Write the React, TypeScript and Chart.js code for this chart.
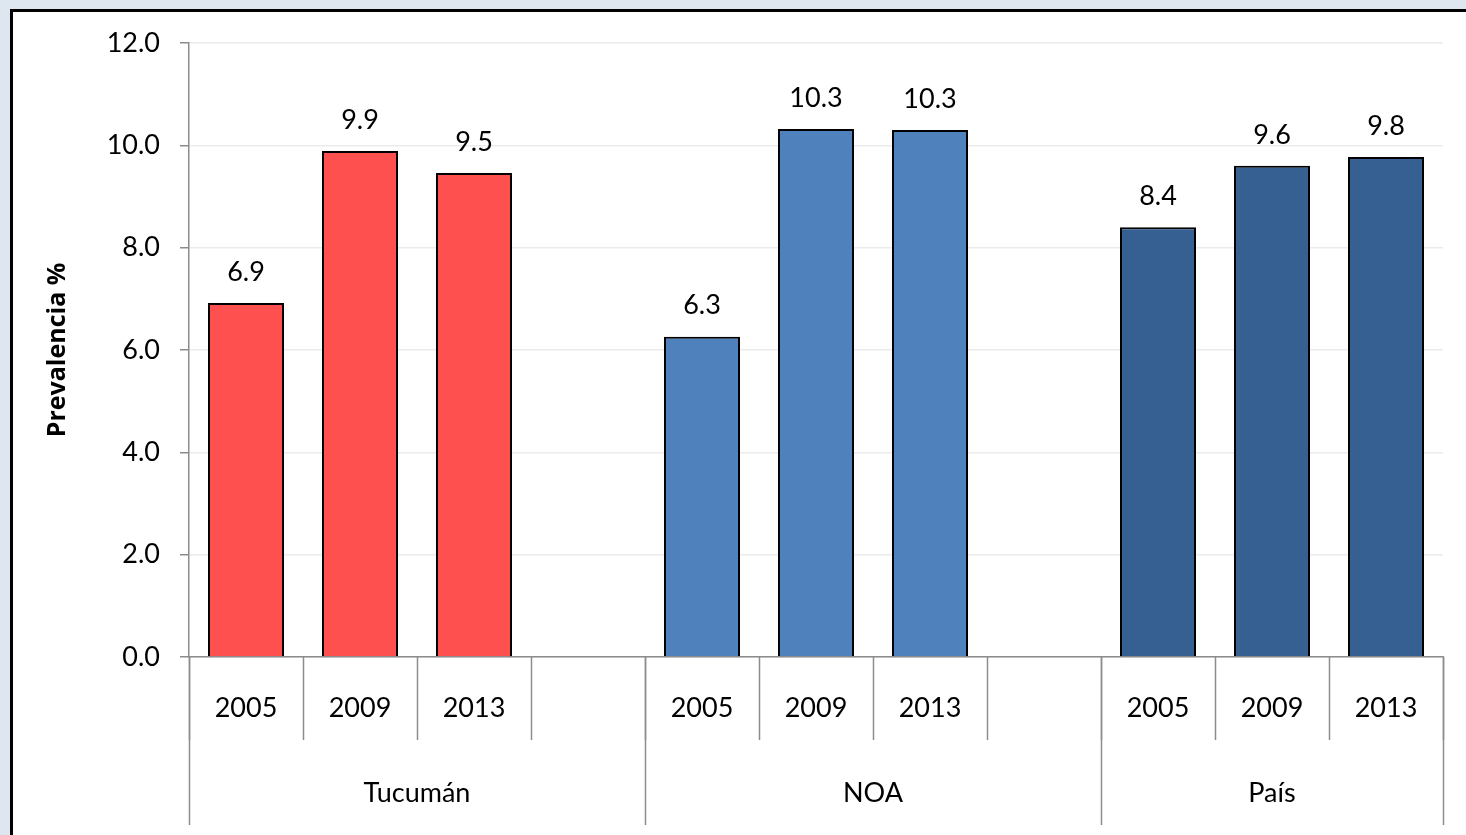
import React, { useEffect, useRef } from "react";
import { Chart, registerables } from "chart.js";

Chart.register(...registerables);

const years = ["2005", "2009", "2013", "", "2005", "2009", "2013", "", "2005", "2009", "2013"];
const values: (number | null)[] = [6.92, 9.89, 9.46, null, 6.26, 10.32, 10.3, null, 8.4, 9.6, 9.77];
const groups = ["Tucumán", "NOA", "País"];
const groupSpans = [[0, 3], [4, 7], [8, 10]];
const barColors = ["#FF5050", "#FF5050", "#FF5050", "#FFFFFF", "#4F81BD", "#4F81BD", "#4F81BD", "#FFFFFF", "#366092", "#366092", "#366092"];
const yTicks = [0, 2, 4, 6, 8, 10, 12];

const FONT = "Lato, 'Open Sans', sans-serif";

const multiAxisPlugin = {
  id: "multiAxis",
  afterDraw(chart: any) {
    const ctx = chart.ctx;
    const x = chart.scales.x;
    const area = chart.chartArea;
    const n = years.length;
    const step = x.getPixelForValue(1) - x.getPixelForValue(0);
    const edge = (i: number) => x.getPixelForValue(i) - step / 2;
    const base = area.bottom;
    ctx.save();
    ctx.strokeStyle = "#8c8c8c";
    ctx.lineWidth = 1.5;
    for (let i = 0; i <= n; i++) {
      const px = Math.round(edge(i)) + 0.5;
      ctx.beginPath();
      ctx.moveTo(px, base);
      ctx.lineTo(px, base + 83);
      ctx.stroke();
    }
    const divs = [0, 4, 8, 11];
    for (const d of divs) {
      const px = Math.round(edge(d)) + 0.5;
      ctx.beginPath();
      ctx.moveTo(px, base);
      ctx.lineTo(px, base + 168);
      ctx.stroke();
    }
    ctx.fillStyle = "#000";
    ctx.font = `27px ${FONT}`;
    ctx.textAlign = "center";
    ctx.textBaseline = "middle";
    years.forEach((y, i) => {
      if (y) ctx.fillText(y, x.getPixelForValue(i), base + 51);
    });
    groups.forEach((g, gi) => {
      const [a, b] = groupSpans[gi];
      const left = edge(a);
      const right = gi === groups.length - 1 ? edge(n) : edge(b + 1);
      ctx.fillText(g, (left + right) / 2, base + 136);
    });
    ctx.restore();
  },
};

const valueLabelPlugin = {
  id: "valueLabels",
  afterDatasetsDraw(chart: any) {
    const ctx = chart.ctx;
    const meta = chart.getDatasetMeta(0);
    ctx.save();
    ctx.fillStyle = "#000";
    ctx.font = `27px ${FONT}`;
    ctx.textAlign = "center";
    ctx.textBaseline = "middle";
    meta.data.forEach((bar: any, i: number) => {
      const v = values[i];
      if (v == null) return;
      ctx.fillText(v.toFixed(1), bar.x, bar.y - 31);
    });
    ctx.restore();
  },
};

export default function App() {
  const ref = useRef<HTMLCanvasElement>(null);
  useEffect(() => {
    if (!ref.current) return;
    const chart = new Chart(ref.current, {
      type: "bar",
      data: {
        labels: years.map((y, i) => y || " " + i),
        datasets: [
          {
            data: values,
            backgroundColor: barColors,
            borderColor: "#000",
            borderWidth: 2,
            barPercentage: 0.667,
            categoryPercentage: 1,
          },
        ],
      },
      options: {
        responsive: false,
        animation: false,
        layout: { padding: { top: 31, right: 23, left: 0, bottom: 0 } },
        plugins: { legend: { display: false }, tooltip: { enabled: false } },
        scales: {
          x: {
            offset: true,
            ticks: { display: false },
            grid: { display: false },
            border: { display: true, color: "#8c8c8c", width: 1.5 },
            afterFit(scale: any) {
              scale.height = 178;
              scale.paddingLeft = 0;
              scale.paddingRight = 0;
            },
          },
          y: {
            min: 0,
            max: 12,
            afterBuildTicks(scale: any) {
              scale.ticks = yTicks.map((v) => ({ value: v }));
            },
            ticks: {
              color: "#000",
              font: { size: 27, family: FONT },
              padding: 20,
              callback: (v: any) => Number(v).toFixed(1),
            },
            grid: {
              color: "#ebebeb",
              lineWidth: 1.5,
              drawTicks: true,
              tickLength: 9,
              tickColor: "#8c8c8c",
            },
            border: { display: true, color: "#8c8c8c", width: 1.5 },
            title: {
              display: true,
              text: "Prevalencia %",
              color: "#000",
              font: { size: 25, weight: "bold", family: "'Open Sans', sans-serif" },
              padding: { top: 30, bottom: 0 },
            },
            afterFit(scale: any) {
              scale.width = 176;
              scale.paddingTop = 0;
              scale.paddingBottom = 0;
            },
          },
        },
      },
      plugins: [multiAxisPlugin, valueLabelPlugin],
    });
    return () => chart.destroy();
  }, []);

  return (
    <div style={{ position: "fixed", inset: 0, background: "#dee6f0", overflow: "hidden" }}>
      <div
        style={{
          position: "absolute",
          left: 10,
          top: 9,
          width: 1470,
          height: 840,
          border: "3px solid #000",
          background: "#fff",
        }}
      >
        <canvas ref={ref} width={1453} height={823} style={{ display: "block", width: 1453, height: 823 }} />
      </div>
    </div>
  );
}
